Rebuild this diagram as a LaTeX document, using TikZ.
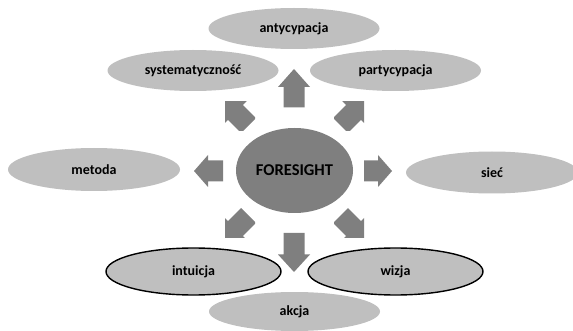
\documentclass[tikz,border=0pt]{standalone}
\usepackage{fontspec}
\setmainfont{Carlito}
\usetikzlibrary{shapes.geometric}
\definecolor{ellfill}{HTML}{BFBFBF}
\definecolor{darkfill}{HTML}{7F7F7F}
\tikzset{
  ell/.style={ellipse, fill=ellfill, draw=none, inner sep=0pt,
    minimum width=171pt, minimum height=41pt,
    font=\fontsize{14}{16}\selectfont\bfseries},
  ellb/.style={ell, draw=black, line width=1.4pt, minimum width=175pt, minimum height=47pt},
  core/.style={ellipse, fill=darkfill, draw=none, inner sep=0pt,
    minimum width=117pt, minimum height=85pt,
    font=\fontsize{16.5}{18}\selectfont\bfseries},
}
% \blockarr{x}{y}{angle}{shaft length}{total length}
\newcommand{\blockarr}[5]{%
  \begin{scope}[shift={(#1,#2)}, rotate=#3]
    \fill[darkfill] (0,-10.5) -- (#4,-10.5) -- (#4,-16) -- (#5,0)
      -- (#4,16) -- (#4,10.5) -- (0,10.5) -- cycle;
  \end{scope}}
\begin{document}
\begin{tikzpicture}[x=1pt,y=-1pt]
  \useasboundingbox (0,0) rectangle (573,331);
  \clip (0,0) rectangle (573,331);
  % ellipses
  \node[ell] (ant) at (294,28.5) {antycypacja};
  \node[ell] (sys) at (193,70.5) {systematyczność};
  \node[ell] (par) at (395.5,70.5) {partycypacja};
  \node[ell, minimum width=172pt, minimum height=43pt] (met) at (94,169.5) {metoda};
  \node[ell, minimum width=172pt, minimum height=42pt] (sie) at (492,172.5) {sieć};
  \node[ellb] (int) at (193.5,271.5) {intuicja};
  \node[ellb] (wiz) at (395.5,271.5) {wizja};
  \node[ell, minimum height=39pt] (akc) at (294.5,311.5) {akcja};
  % centre
  \node[core] (fs) at (294.5,170.5) {FORESIGHT};
  % straight block arrows
  \blockarr{294}{107.5}{90}{20.5}{38.5}
  \blockarr{294}{233}{-90}{21.5}{39}
  \blockarr{223}{171}{180}{15}{29}
  \blockarr{364}{171}{0}{14}{28}
  % diagonal block arrows (clipped to their boxes)
  \begin{scope}
    \clip (225,102) rectangle (255,131);
    \blockarr{248.5}{125.5}{135}{18.5}{36}
  \end{scope}
  \begin{scope}
    \clip (334,102) rectangle (364,131);
    \blockarr{340.5}{125.5}{45}{18.5}{36}
  \end{scope}
  \begin{scope}
    \clip (225,209) rectangle (255,238);
    \blockarr{248.5}{215.5}{225}{18.5}{36}
  \end{scope}
  \begin{scope}
    \clip (334,209) rectangle (364,238);
    \blockarr{340.5}{215.5}{-45}{18.5}{36}
  \end{scope}
\end{tikzpicture}
\end{document}
